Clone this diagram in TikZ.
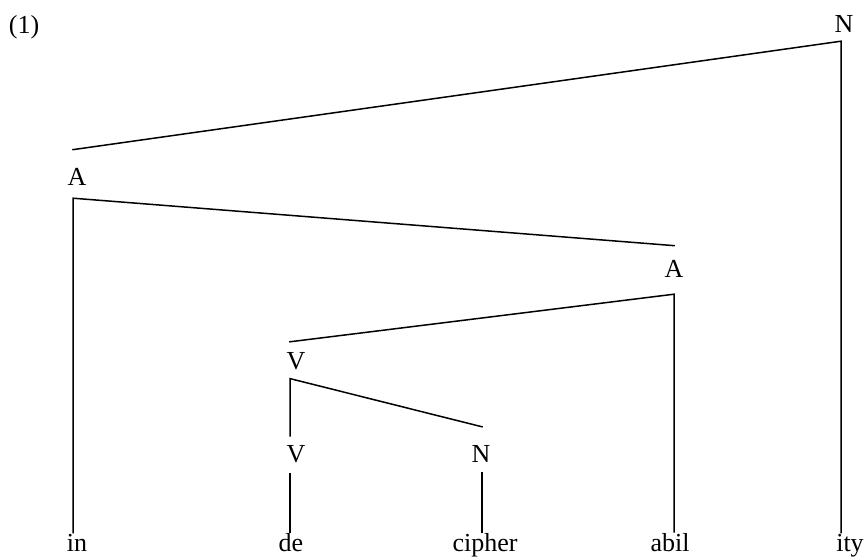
\documentclass[tikz,border=0pt]{standalone}
\usepackage{fontspec}
\setmainfont{Liberation Serif}
\usepackage{tikz}
\usetikzlibrary{positioning, calc}

\tikzset{
	cat/.style = {inner sep=0pt, anchor=base, font=\fontsize{26}{31}\selectfont},
	morph/.style = {inner sep=0pt, anchor=base, font=\fontsize{26}{31}\selectfont},
	branch/.style = {line width=1.5pt, line cap=rect}
}

\begin{document}
\begin{tikzpicture}[x=1pt, y=-1pt]
				\useasboundingbox (0,0) rectangle (865,557);
				
				\node(ex) [cat] at (24,33) {(1)};
				
				%--------------------------------------------------------------------
				\node(nTop) [cat] at (844,32) {N};
				\node(aOuter) [cat] at (77,185) {A};
				\node(aInner) [cat] at (674,277) {A};
				\node(vUpper) [cat] at (296,369) {V};
				\node(vLower) [cat] at (296,462) {V};
				\node(nLower) [cat] at (481,462) {N};
				
				%--------------------------------------------------------------------
				\node(in) [morph] at (77,551) {in};
				\node(de) [morph] at (291,551) {de};
				\node(cipher) [morph] at (485,551) {cipher};
				\node(abil) [morph] at (670,551) {abil};
				\node(ity) [morph] at (850,551) {ity};
				
				%--------------------------------------------------------------------
				\draw[branch] ([xshift=-4pt,yshift=18pt]aOuter.north) -- ([xshift=-3pt,yshift=-9pt]nTop.south) -- ([xshift=-9pt,yshift=1pt]ity.north);
				\draw[branch] ([yshift=14pt]aInner.north) -- ([xshift=-4pt,yshift=-13pt]aOuter.south) -- ([xshift=-4pt,yshift=1pt]in.north);
				\draw[branch] ([xshift=-6pt,yshift=10pt]vUpper.north) -- ([yshift=-17pt]aInner.south) -- ([xshift=4pt,yshift=1pt]abil.north);
				\draw[branch] ([xshift=-6pt,yshift=9pt]vLower.north) -- ([xshift=-6pt,yshift=-9pt]vUpper.south) -- ([xshift=1pt,yshift=18pt]nLower.north);
				
				%--------------------------------------------------------------------
				\draw[branch] ([xshift=-6pt,yshift=-11pt]vLower.south) -- ([xshift=-1pt,yshift=1pt]de.north);
				\draw[branch] ([xshift=1pt,yshift=-11pt]nLower.south) -- ([xshift=-3pt,yshift=1pt]cipher.north);
				
			\end{tikzpicture}
\end{document}
